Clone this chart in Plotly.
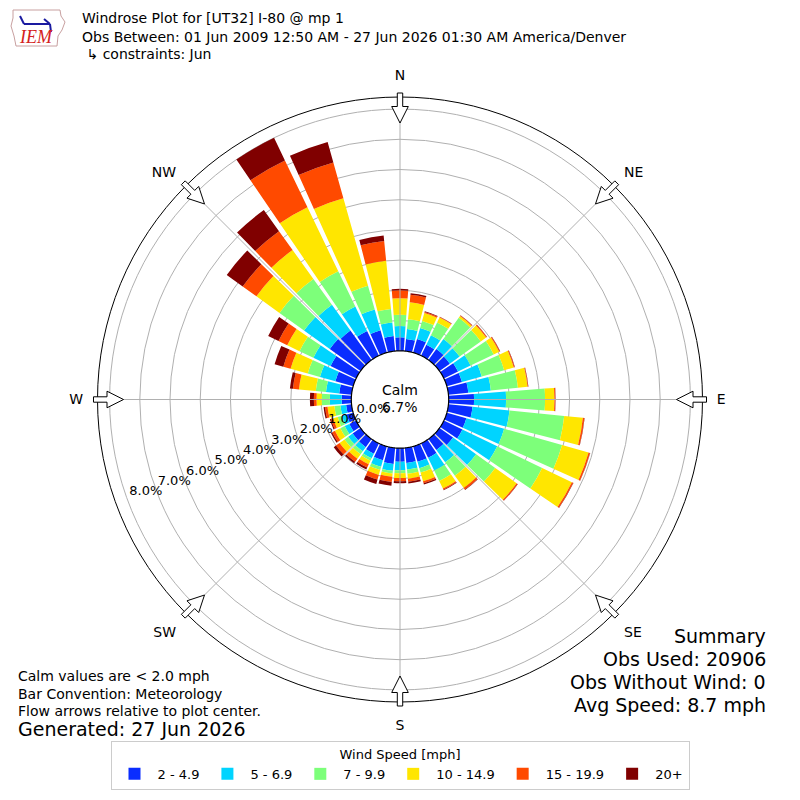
import math
import plotly.graph_objects as go

# wind directions (deg, meteorological) and frequency (%) per speed bin
directions = [0, 10, 20, 30, 40, 50, 60, 70, 80, 90, 100, 110, 120, 130, 140, 150, 160, 170,
              180, 190, 200, 210, 220, 230, 240, 250, 260, 270, 280, 290, 300, 310, 320, 330, 340, 350]

spd_2_5 = [0.45, 0.40, 0.47, 0.40, 0.45, 0.42, 0.52, 0.52, 0.66, 0.84, 0.80, 0.67, 0.68, 0.55, 0.45, 0.53, 0.53, 0.50,
           0.45, 0.53, 0.48, 0.38, 0.33, 0.32, 0.25, 0.22, 0.18, 0.32, 0.41, 0.61, 0.94, 1.25, 1.20, 0.90, 0.77, 0.50]
spd_5_7 = [0.37, 0.33, 0.38, 0.35, 0.40, 0.40, 0.46, 0.68, 0.75, 1.06, 1.23, 1.30, 1.28, 0.94, 0.50, 0.47, 0.22, 0.22,
           0.28, 0.23, 0.22, 0.17, 0.17, 0.18, 0.17, 0.16, 0.19, 0.39, 0.44, 0.53, 0.63, 1.05, 1.05, 0.90, 0.71, 0.45]
spd_7_10 = [0.37, 0.33, 0.24, 0.47, 0.87, 0.86, 0.85, 0.77, 0.90, 1.29, 1.82, 1.99, 1.65, 0.78, 0.55, 0.38, 0.15, 0.14,
            0.10, 0.09, 0.11, 0.09, 0.12, 0.15, 0.16, 0.15, 0.20, 0.27, 0.34, 0.42, 0.51, 1.00, 1.05, 1.30, 0.82, 0.45]
spd_10_15 = [0.55, 0.56, 0.27, 0.18, 0.07, 0.22, 0.20, 0.33, 0.32, 0.31, 0.62, 0.91, 1.09, 0.87, 0.50, 0.28, 0.30, 0.16,
             0.16, 0.11, 0.17, 0.13, 0.18, 0.20, 0.20, 0.15, 0.23, 0.17, 0.56, 0.59, 0.45, 0.94, 1.18, 2.35, 3.01, 1.60]
spd_15_20 = [0.26, 0.25, 0.04, 0.02, 0.02, 0.03, 0.03, 0.03, 0.02, 0.03, 0.05, 0.05, 0.05, 0.04, 0.06, 0.04, 0.07, 0.10,
             0.10, 0.17, 0.16, 0.12, 0.13, 0.15, 0.10, 0.08, 0.08, 0.09, 0.20, 0.25, 0.32, 0.56, 0.77, 1.72, 1.23, 0.66]
spd_20p = [0.05, 0.05, 0.02, 0.01, 0.01, 0.01, 0.01, 0.01, 0.01, 0.01, 0.01, 0.01, 0.01, 0.01, 0.02, 0.02, 0.04, 0.06,
           0.07, 0.13, 0.15, 0.07, 0.06, 0.09, 0.05, 0.04, 0.05, 0.13, 0.10, 0.30, 0.38, 0.65, 0.86, 0.83, 0.70, 0.18]

bin_labels = ["2 - 4.9", "5 - 6.9", "7 - 9.9", "10 - 14.9", "15 - 19.9", "20+"]
bin_colors = ["#0a2dff", "#00d4ff", "#7dff7a", "#ffe600", "#ff4a00", "#800000"]

compass_vals = [0, 45, 90, 135, 180, 225, 270, 315]
compass_text = ["N", "NE", "E", "SE", "S", "SW", "W", "NW"]
ring_vals = [0, 1, 2, 3, 4, 5, 6, 7, 8]
ring_text = ["0.0%", "1.0%", "2.0%", "3.0%", "4.0%", "5.0%", "6.0%", "7.0%", "8.0%"]

calm_pct = "6.7%"
summary = ["Summary", "Obs Used: 20906", "Obs Without Wind: 0", "Avg Speed: 8.7 mph"]
notes = ["Calm values are < 2.0 mph", "Bar Convention: Meteorology", "Flow arrows relative to plot center."]

FONT = "DejaVu Sans"
W = H = 800
OFF = 8  # page body margin
CX, CY, R = 400, 399.5, 302.5
HOLE = 48.7
RMAX = 8.4
RMIN = -HOLE / ((R - HOLE) / RMAX)  # calm circle = 0 %

fig = go.Figure()

series = [spd_2_5, spd_5_7, spd_7_10, spd_10_15, spd_15_20, spd_20p]
for vals, name, col in zip(series, bin_labels, bin_colors):
    fig.add_trace(go.Barpolar(r=vals, theta=directions, name=name, width=8.6,
                              marker=dict(color=col, line=dict(width=0))))

# compass spokes, starting at the calm circle
sr, st = [], []
for a in compass_vals:
    sr += [0, RMAX, None]
    st += [a, a, None]
fig.add_trace(go.Scatterpolar(r=sr, theta=st, mode="lines", line=dict(color="#b0b0b0", width=1),
                              showlegend=False, hoverinfo="skip"))

# black outline of the calm circle
circ = list(range(0, 361, 2))
fig.add_trace(go.Scatterpolar(r=[0] * len(circ), theta=circ, mode="lines",
                              line=dict(color="black", width=1.2), showlegend=False,
                              hoverinfo="skip", cliponaxis=False))

# ring labels along the WSW line
fig.add_trace(go.Scatterpolar(r=[v - 0.66 for v in ring_vals], theta=[250] * len(ring_vals),
                              mode="text", text=ring_text, textfont=dict(size=13, color="black"),
                              showlegend=False, hoverinfo="skip", cliponaxis=False))


def px(x, y):
    return (x - OFF) / W, 1 - (y - OFF) / H


# flow arrows at the 8 compass points, pointing inward
shapes = []
for ang in compass_vals:
    t = math.radians(ang)
    ux, uy = math.sin(t), -math.cos(t)
    vx, vy = math.cos(t), math.sin(t)
    pts = [(306.5, -2.7), (293, -2.7), (293, -8.3), (276.5, 0), (293, 8.3), (293, 2.7), (306.5, 2.7)]
    path = ""
    for i, (s, w) in enumerate(pts):
        xp, yp = px(CX + s * ux + w * vx, CY + s * uy + w * vy)
        path += ("M" if i == 0 else "L") + f"{xp:.5f},{yp:.5f} "
    path += "Z"
    shapes.append(dict(type="path", path=path, xref="paper", yref="paper",
                       line=dict(color="black", width=1), fillcolor="white", layer="above"))

# rough IEM logo: state outline and a wind barb
logo = [(13, 10), (60, 10), (61, 16), (65, 22), (62, 30), (58, 36), (57, 46), (16, 46), (14, 36), (11, 26), (13, 18)]
path = ""
for i, (x, y) in enumerate(logo):
    xp, yp = px(x, y)
    path += ("M" if i == 0 else "L") + f"{xp:.5f},{yp:.5f} "
shapes.append(dict(type="path", path=path + "Z", xref="paper", yref="paper",
                   line=dict(color="#c8a0a0", width=1)))
for (xa, ya, xb, yb) in [(24, 24, 50, 24), (24, 24, 20, 16), (44, 19, 50, 24), (50, 24, 51, 32)]:
    a = px(xa, ya)
    b = px(xb, yb)
    shapes.append(dict(type="line", x0=a[0], y0=a[1], x1=b[0], y1=b[1], xref="paper", yref="paper",
                       line=dict(color="#1a1aa0", width=2)))

ann = []


def text(x, y, s, size=14, xanchor="left", color="black", family=FONT):
    xp, yp = px(x, y)
    ann.append(dict(x=xp, y=yp, xref="paper", yref="paper", text=s, showarrow=False,
                    xanchor=xanchor, yanchor="middle", font=dict(size=size, color=color, family=family)))


text(80, 18, "Windrose Plot for [UT32] I-80 @ mp 1")
text(80, 37, "Obs Between: 01 Jun 2009 12:50 AM - 27 Jun 2026 01:30 AM America/Denver")
text(80, 54, " \u21b3 constraints: Jun")
text(36, 37, "<i>IEM</i>", size=18, xanchor="center", color="#d42020", family="Liberation Serif")

text(400, 390, "Calm", xanchor="center")
text(400, 407, calm_pct, xanchor="center")

for i, s in enumerate(notes):
    text(16, 676 + i * 17.5, s)
text(16, 729, "Generated: 27 Jun 2026", size=19)

for i, s in enumerate(summary):
    text(768, 636 + i * 23, s, size=19, xanchor="right")

x0, y1 = px(CX - R, CY + R)
x1, y0 = px(CX + R, CY - R)
lx, ly = px(400, 741)

fig.update_layout(
    width=W, height=H,
    margin=dict(l=0, r=0, t=0, b=0),
    paper_bgcolor="white",
    font=dict(family=FONT, size=14, color="black"),
    polar=dict(
        domain=dict(x=[x0, x1], y=[y1, y0]),
        bgcolor="white",
        barmode="stack",
        angularaxis=dict(rotation=90, direction="clockwise", tickmode="array",
                         tickvals=compass_vals, ticktext=compass_text,
                         showgrid=False, showline=True, linecolor="black", linewidth=1,
                         ticks="outside", ticklen=11, tickcolor="rgba(0,0,0,0)",
                         tickfont=dict(size=14)),
        radialaxis=dict(range=[RMIN, RMAX], tickmode="array", tickvals=ring_vals[1:],
                        showgrid=True, gridcolor="#b0b0b0", gridwidth=1,
                        showline=False, ticks="", showticklabels=False),
    ),
    legend=dict(orientation="h", x=lx, xanchor="center", y=ly, yanchor="top",
                bordercolor="#cccccc", borderwidth=1, bgcolor="white",
                title=dict(text="Wind Speed [mph]", side="top center", font=dict(size=13)),
                font=dict(size=13), itemwidth=36, traceorder="normal"),
    shapes=shapes,
    annotations=ann,
)

fig.write_html("out.html")
